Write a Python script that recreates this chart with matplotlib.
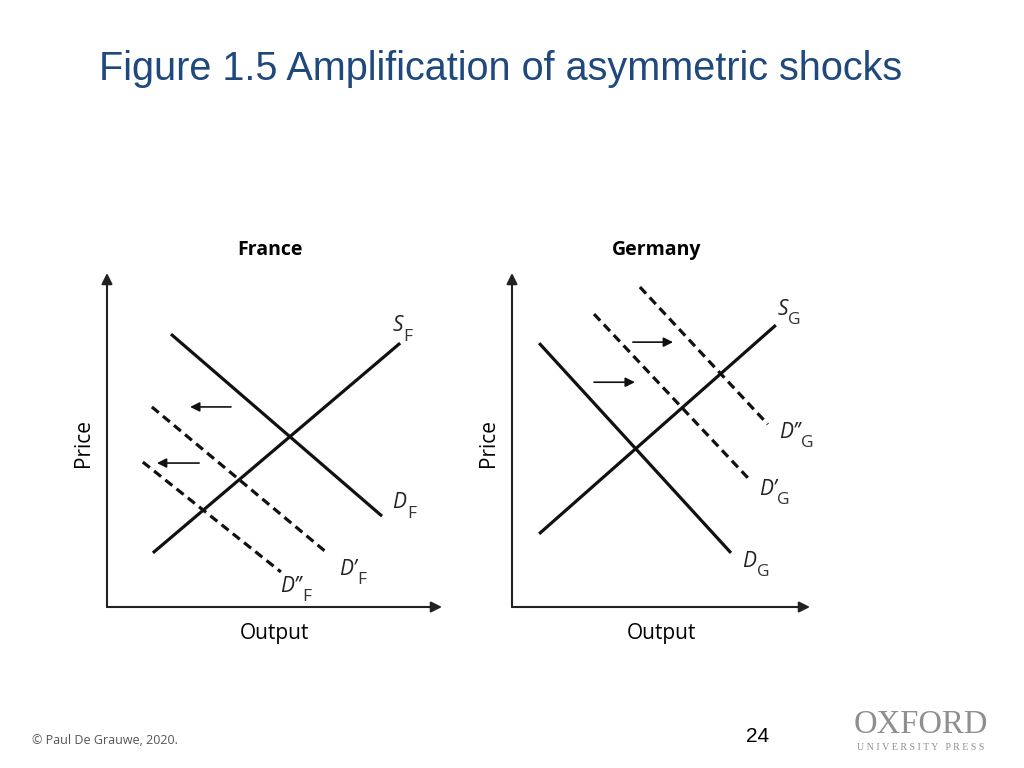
import matplotlib
matplotlib.use('Agg')
import matplotlib.pyplot as plt

# line end points, in panel units (origin at axis corner)
france_s = ([1.37, 8.75], [1.62, 7.90])
france_d = ([1.91, 8.21], [8.17, 2.72])
france_d1 = ([1.34, 6.57], [5.99, 1.62])
france_d2 = ([1.07, 5.19], [4.34, 1.05])
france_arrows = [((3.70, 5.99), (2.48, 5.99)), ((2.75, 4.31), (1.49, 4.31))]

germany_s = ([0.81, 7.88], [2.19, 8.44])
germany_d = ([0.81, 6.54], [7.90, 1.62])
germany_d1 = ([2.45, 7.07], [8.77, 3.84])
germany_d2 = ([3.82, 7.64], [9.58, 5.47])
germany_arrows = [((3.61, 7.93), (4.81, 7.93)), ((2.45, 6.73), (3.67, 6.73))]

# (main, subscript, x, y)
france_labels = [('S', 'F', 8.52, 8.25), ('D', 'F', 8.52, 2.95),
                 ('D\u2019', 'F', 6.92, 0.95), ('D\u2019\u2019', 'F', 5.17, 0.45)]
germany_labels = [('S', 'G', 7.92, 8.75), ('D\u2019\u2019', 'G', 7.97, 5.05),
                  ('D\u2019', 'G', 7.37, 3.35), ('D', 'G', 6.87, 1.20)]

FONT = 'Open Sans'


def label(ax, main, sub, x, y):
    t = ax.text(x, y, main, fontsize=15, style='italic', family=FONT,
                ha='left', va='baseline', color='#222222')
    ax.annotate(sub, xy=(1, 0), xycoords=t, xytext=(0.5, -3),
                textcoords='offset points', fontsize=12.5, family=FONT,
                ha='left', va='baseline', color='#333333')


def panel(ax, title, xmax, s, d, d1, d2, arrows, labels):
    ax.set_xlim(0, xmax)
    ax.set_ylim(0, 10)
    ax.axis('off')
    # axes with arrow heads
    ax.annotate('', xy=(xmax, 0), xytext=(0, 0),
                arrowprops=dict(arrowstyle='-|>', color='#222222', lw=1.5,
                                mutation_scale=16, shrinkA=0, shrinkB=0))
    ax.annotate('', xy=(0, 10), xytext=(0, 0),
                arrowprops=dict(arrowstyle='-|>', color='#222222', lw=1.5,
                                mutation_scale=16, shrinkA=0, shrinkB=0))
    ax.plot(*s, color='#111111', lw=2.3, solid_capstyle='butt')
    ax.plot(*d, color='#111111', lw=2.3, solid_capstyle='butt')
    ax.plot(*d1, color='#111111', lw=2.3, ls=(0, (2.8, 1.7)))
    ax.plot(*d2, color='#111111', lw=2.3, ls=(0, (2.8, 1.7)))
    for start, end in arrows:
        ax.annotate('', xy=end, xytext=start,
                    arrowprops=dict(arrowstyle='-|>', color='#111111', lw=1.2,
                                    mutation_scale=14, shrinkA=0, shrinkB=0))
    for main, sub, x, y in labels:
        label(ax, main, sub, x, y)
    ax.text(xmax / 2 - 0.12, 10.7, title, fontsize=14, weight='bold', family=FONT,
            ha='center', va='center', clip_on=False)
    ax.text(xmax / 2, -0.8, 'Output', fontsize=15, family=FONT,
            ha='center', va='center', clip_on=False)
    ax.text(-0.7, 4.9, 'Price', fontsize=15, family=FONT, rotation=90,
            ha='center', va='center', clip_on=False)


fig = plt.figure(figsize=(10.24, 7.68), dpi=100)

ax_f = fig.add_axes([107 / 1024, 161 / 768, 335 / 1024, 334 / 768])
panel(ax_f, 'France', 10, france_s, france_d, france_d1, france_d2,
      france_arrows, france_labels)

ax_g = fig.add_axes([512 / 1024, 161 / 768, 298 / 1024, 334 / 768])
panel(ax_g, 'Germany', 8.9, germany_s, germany_d, germany_d1, germany_d2,
      germany_arrows, germany_labels)

fig.text(99 / 1024, 1 - 69 / 768, 'Figure 1.5 Amplification of asymmetric shocks',
         fontsize=28.5, family='Liberation Sans', color='#1F497D',
         ha='left', va='center')

fig.text(32 / 1024, 1 - 741 / 768, '\u00a9 Paul De Grauwe, 2020.', fontsize=9,
         family=FONT, color='#555555', ha='left', va='center')
fig.text(758 / 1024, 1 - 736 / 768, '24', fontsize=15, family='Liberation Sans',
         color='#000000', ha='center', va='center')
fig.text(921 / 1024, 1 - 725 / 768, 'OXFORD', fontsize=23.5,
         family='Liberation Serif', color='#8f8f8f', ha='center', va='center')
fig.text(921 / 1024, 1 - 747 / 768, 'U N I V E R S I T Y   P R E S S', fontsize=7.2,
         family='Liberation Serif', color='#8f8f8f', ha='center', va='center')

fig.savefig('out.png', dpi=100, facecolor='white')
